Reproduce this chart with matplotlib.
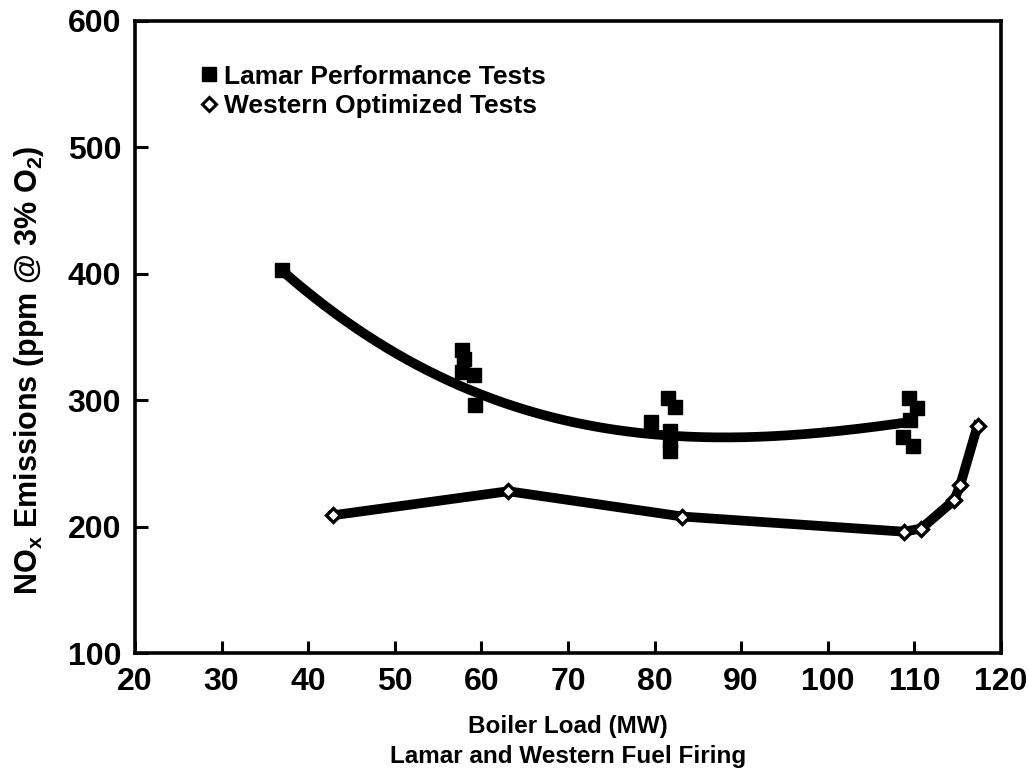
import numpy as np
import matplotlib
matplotlib.use("Agg")
import matplotlib.pyplot as plt
from matplotlib.lines import Line2D

# Lamar performance tests (scatter)
lamar_load = [37.0, 57.8, 58.0, 57.8, 59.2, 59.3,
              79.6, 81.5, 82.4, 81.8, 81.8, 81.8,
              109.4, 110.3, 109.5, 108.7, 109.8]
lamar_nox = [403, 340, 333, 322, 320, 296,
             283, 302, 295, 276, 268, 260,
             302, 294, 284, 271, 264]

# Lamar trend curve knots
curve_load = [37.0, 39.0, 44.8, 50.6, 56.4, 62.1, 67.0, 74.5, 81.4, 89.9, 97.6, 105.2, 109.5]
curve_nox = [403, 391, 360, 334, 315, 298, 290, 279, 272.5, 270, 272.5, 278, 284]

# Western optimized tests
western_load = [42.9, 63.1, 83.2, 108.8, 110.8, 114.6, 115.3, 117.3]
western_nox = [209, 228, 208, 196, 198.5, 221, 233, 280]

xticks = [20, 30, 40, 50, 60, 70, 80, 90, 100, 110, 120]
yticks = [100, 200, 300, 400, 500, 600]

plt.rcParams['font.family'] = ['Liberation Sans', 'DejaVu Sans']

fig = plt.figure(figsize=(10.28, 7.72), dpi=100)
ax = fig.add_axes([0.1313, 0.1541, 0.8424, 0.8187])

# Lamar curve (cubic fit through the read knots)
coef = np.polyfit(curve_load, curve_nox, 3)
xs = np.linspace(min(curve_load), max(curve_load), 300)
ax.plot(xs, np.polyval(coef, xs), color='black', lw=7, solid_capstyle='butt', zorder=2)

ax.plot(lamar_load, lamar_nox, linestyle='none', marker='s', markersize=9.5,
        color='black', zorder=3)

ax.plot(western_load, western_nox, color='black', lw=7, zorder=2,
        solid_joinstyle='round')
ax.plot(western_load, western_nox, linestyle='none', marker='D', markersize=7.5,
        markerfacecolor='white', markeredgecolor='black', markeredgewidth=2.4, zorder=4)

ax.set_xlim(20, 120)
ax.set_ylim(100, 600)
ax.set_xticks(xticks)
ax.set_yticks(yticks)
ax.tick_params(direction='in', length=9, width=2.2, labelsize=23, pad=10)
for lab in ax.get_xticklabels() + ax.get_yticklabels():
    lab.set_fontweight('bold')
for sp in ax.spines.values():
    sp.set_linewidth(2.6)

ax.set_xlabel('Boiler Load (MW)\nLamar and Western Fuel Firing', fontsize=17.5,
              fontweight='bold', labelpad=13, linespacing=1.4)
ax.set_ylabel(r'NO$_\mathregular{x}$ Emissions (ppm @ 3% O$_\mathregular{2}$)',
              fontsize=22, fontweight='bold')
ax.yaxis.set_label_coords(-0.103, 0.448)

handles = [
    Line2D([], [], linestyle='none', marker='s', markersize=9.5, color='black'),
    Line2D([], [], linestyle='none', marker='D', markersize=7, markerfacecolor='white',
           markeredgecolor='black', markeredgewidth=2.2),
]
leg = ax.legend(handles, ['Lamar Performance Tests', 'Western Optimized Tests'],
                loc='upper left', bbox_to_anchor=(0.056, 0.952), frameon=False,
                prop={'size': 19, 'weight': 'bold'}, handletextpad=0.15,
                handlelength=0.9, labelspacing=0.2, borderpad=0)

fig.savefig('out.png', dpi=100)
